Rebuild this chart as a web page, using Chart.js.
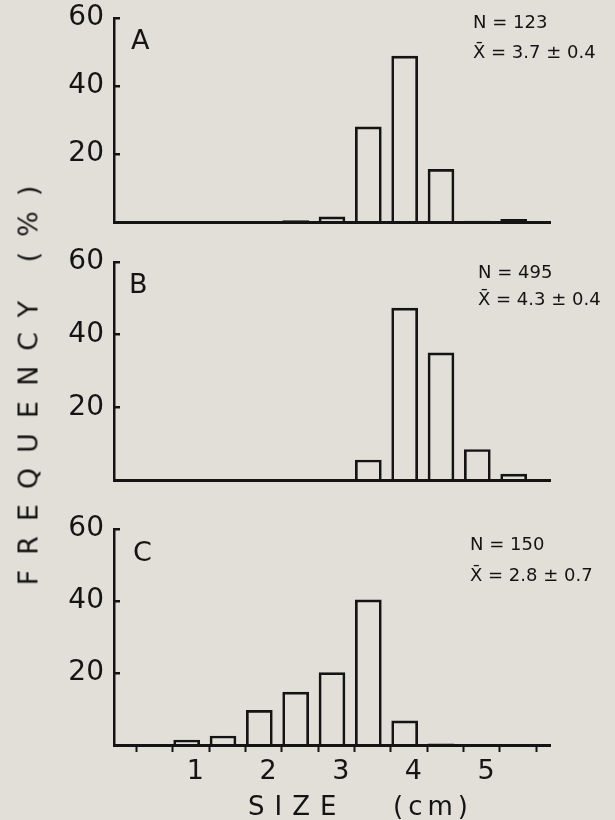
<!DOCTYPE html>
<html>
<head>
<meta charset="utf-8">
<script src="https://cdn.jsdelivr.net/npm/chart.js@4.4.0/dist/chart.umd.min.js"></script>
<style>
  html, body { margin: 0; padding: 0; background: #e1dfd8; }
  #fig { position: relative; width: 615px; height: 820px; overflow: hidden;
         font-family: 'DejaVu Sans', sans-serif; color: #141414; }
  #fig canvas { position: absolute; left: 0; }
  .txt { position: absolute; line-height: 1; white-space: nowrap; }
  .panel { font-size: 27px; }
  .stat { font-size: 18px; }
  .xtitle { font-size: 26px; }
  #ytitle { font-size: 27px; letter-spacing: 15px; left: 28px; top: 378px;
            transform: translate(-50%, -50%) rotate(-90deg); }
</style>
</head>
<body>
<div id="fig">
  <canvas id="chartA" width="615" height="240" style="top:0px"></canvas>
  <canvas id="chartB" width="615" height="262" style="top:240px"></canvas>
  <canvas id="chartC" width="615" height="318" style="top:502px"></canvas>

  <div class="txt panel" style="left:131px; top:26px">A</div>
  <div class="txt panel" style="left:129px; top:270px">B</div>
  <div class="txt panel" style="left:133px; top:538px">C</div>

  <div class="txt stat" style="left:473px; top:13px">N = 123</div>
  <div class="txt stat" style="left:473px; top:43px">X&#772; = 3.7 ± 0.4</div>
  <div class="txt stat" style="left:478px; top:263px">N = 495</div>
  <div class="txt stat" style="left:478px; top:290px">X&#772; = 4.3 ± 0.4</div>
  <div class="txt stat" style="left:470px; top:535px">N = 150</div>
  <div class="txt stat" style="left:470px; top:566px">X&#772; = 2.8 ± 0.7</div>

  <div class="txt xtitle" style="left:248px; top:793px; letter-spacing:10px">SIZE</div>
  <div class="txt xtitle" style="left:393px; top:793px; letter-spacing:5px">(cm)</div>
  <div class="txt" id="ytitle">FREQUENCY (%)</div>
</div>

<script>
// size classes (cm) and frequency (%)
const sizeClasses = [0.5, 1.0, 1.5, 2.0, 2.5, 3.0, 3.5, 4.0, 4.5, 5.0, 5.5];
const freqA = [0, 0, 0, 0.2, 0.4, 1.5, 28, 48.8, 15.5, 0.3, 0.8];
const freqB = [0, 0, 0, 0, 0, 0, 5.5, 47.3, 35, 8.4, 1.6];
const freqC = [0, 1.4, 2.5, 9.6, 14.7, 20.1, 40.3, 6.7, 0.3, 0, 0];
const yTicks = [20, 40, 60];
const xLabels = [1, 2, 3, 4, 5];

const ink = '#141414';
const family = "'DejaVu Sans', sans-serif";

// keep the plot area exactly where the layout padding puts it
function noPad(s) {
  s.paddingTop = 0; s.paddingBottom = 0; s.paddingLeft = 0; s.paddingRight = 0;
}

function makePanel(id, freq, padTop, axisHeight, showX) {
  const ctx = document.getElementById(id).getContext('2d');

  const xScale = {
    type: 'linear',
    min: 0,
    max: 6,
    offset: false,
    border: { display: true, color: ink, width: 3 },
    grid: { offset: false, drawOnChartArea: false, drawTicks: showX, tickLength: 7, tickWidth: 2,
            tickColor: (c) => (c.tick && c.tick.txt) ? 'rgba(0,0,0,0)' : ink },
    ticks: { display: showX, autoSkip: false, maxRotation: 0, padding: 4,
             color: ink, font: { family: family, size: 27 },
             callback: (v, i, ticks) => ticks[i].txt || '' },
    afterFit: (s) => { s.height = axisHeight; noPad(s); }
  };
  if (showX) {
    // tick marks at the class boundaries, numbers under the classes
    xScale.afterBuildTicks = (s) => {
      const t = [];
      for (let v = 0.5; v <= 6.01; v += 0.5) t.push({ value: v - 0.19 });
      xLabels.forEach(n => t.push({ value: n + 0.12, txt: String(n) }));
      t.sort((a, b) => a.value - b.value);
      s.ticks = t;
    };
  }

  return new Chart(ctx, {
    type: 'bar',
    data: {
      datasets: [{
        data: sizeClasses.map((s, i) => ({ x: s, y: freq[i] })),
        backgroundColor: 'rgba(0,0,0,0)',
        borderColor: ink,
        borderWidth: 2,
        barThickness: 26
      }]
    },
    options: {
      responsive: false,
      animation: false,
      layout: { padding: { top: padTop, right: 65, left: 0, bottom: 0 } },
      plugins: { legend: { display: false }, tooltip: { enabled: false } },
      scales: {
        x: xScale,
        y: {
          min: 0,
          max: 60,
          afterBuildTicks: (s) => { s.ticks = yTicks.map(v => ({ value: v })); },
          border: { display: true, color: ink, width: 2.5 },
          grid: { drawOnChartArea: false, drawTicks: true, tickLength: -6,
                  tickWidth: 2.5, tickColor: ink, lineWidth: 2.5 },
          ticks: { padding: 16, color: ink, font: { family: family, size: 28 } },
          afterFit: (s) => { s.width = 114; noPad(s); }
        }
      }
    }
  });
}

makePanel('chartA', freqA, 18, 18, false);
makePanel('chartB', freqB, 22, 22, false);
makePanel('chartC', freqC, 27, 75, true);
</script>
</body>
</html>
